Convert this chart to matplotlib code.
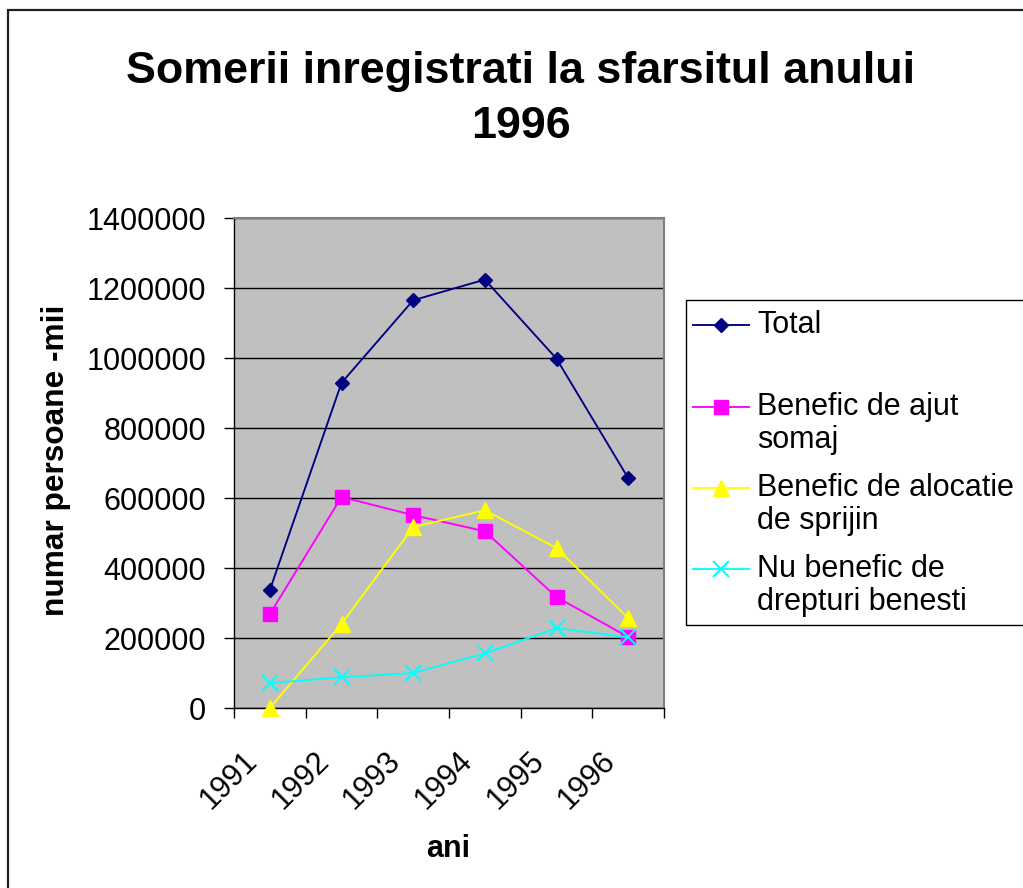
import matplotlib
matplotlib.use('Agg')
import matplotlib.pyplot as plt
from matplotlib.lines import Line2D
from matplotlib.patches import Rectangle
import matplotlib.transforms as mtransforms
import numpy as np

# ---- data ----
years = ['1991', '1992', '1993', '1994', '1995', '1996']
total = [337000, 929000, 1165000, 1224000, 998000, 657000]
ajutor_somaj = [268000, 603000, 551000, 505000, 317000, 203000]
alocatie_sprijin = [0, 240000, 517000, 565000, 457000, 257000]
fara_drepturi = [71000, 88000, 100000, 156000, 228000, 202000]
series_names = ['Total', 'Benefic de ajut\nsomaj', 'Benefic de alocatie\nde sprijin',
                'Nu benefic de\ndrepturi benesti']
y_ticks = [0, 200000, 400000, 600000, 800000, 1000000, 1200000, 1400000]
title_lines = ['Somerii inregistrati la sfarsitul anului', '1996']
x_label = 'ani'
y_label = 'numar persoane -mii'

# ---- styling ----
FONT = 'Liberation Sans'
plt.rcParams['font.family'] = [FONT, 'DejaVu Sans']
W, H = 1023, 888
fig = plt.figure(figsize=(W / 100, H / 100), dpi=100)
fig.patch.set_facecolor('white')

def fx(px):
    return px / W

def fy(py):
    return 1 - py / H

# outer chart frame (extends past right/bottom edges)
fig.patches.append(Rectangle((fx(8), fy(900)), fx(1100), (900 - 10) / H,
                             transform=fig.transFigure, fill=False,
                             edgecolor='#202020', linewidth=1.6, zorder=0))

ax = fig.add_axes([fx(234), fy(708), fx(664) - fx(234), (708 - 218) / H])
ax.set_facecolor('#C0C0C0')

x = np.arange(len(years))
styles = [
    dict(color='#000080', marker='D', markersize=7.5),
    dict(color='#FF00FF', marker='s', markersize=10),
    dict(color='#FFFF00', marker='^', markersize=11.5),
    dict(color='#00FFFF', marker='x', markersize=12, markeredgewidth=1.5),
]
data = [total, ajutor_somaj, alocatie_sprijin, fara_drepturi]
for vals, st, name in zip(data, styles, series_names):
    ax.plot(x, vals, linewidth=1.35, clip_on=False, label=name, zorder=3, **st)

ax.set_xlim(-0.5, len(years) - 0.5)
ax.set_ylim(0, 1400000)
ax.set_yticks(y_ticks)
ax.set_yticklabels([str(v) for v in y_ticks], fontsize=22)
ax.yaxis.grid(True, color='#000000', linewidth=1.0)
ax.set_axisbelow(True)
ax.tick_params(axis='y', direction='out', length=7, width=1, pad=13)

# category boundaries as major ticks, labels on minor ticks
ax.set_xticks(np.arange(-0.5, len(years), 1.0))
ax.set_xticklabels([])
ax.tick_params(axis='x', which='major', direction='out', length=7, width=1)
ax.set_xticks(x, minor=True)
ax.set_xticklabels(years, minor=True, fontsize=22, rotation=45,
                   ha='right', va='center', rotation_mode='anchor')
ax.tick_params(axis='x', which='minor', length=0, pad=35)
offset = mtransforms.ScaledTranslation(-17 / 100, 0, fig.dpi_scale_trans)
for lab in ax.xaxis.get_minorticklabels():
    lab.set_transform(lab.get_transform() + offset)

for side in ['top', 'right']:
    ax.spines[side].set_color('#808080')
    ax.spines[side].set_linewidth(1.5)
for side in ['left', 'bottom']:
    ax.spines[side].set_color('#000000')
    ax.spines[side].set_linewidth(1.0)

# titles / axis labels
fig.text(fx(521), fy(83), title_lines[0], ha='center', va='baseline',
         fontsize=32.3, fontweight='bold')
fig.text(fx(521), fy(138), title_lines[1], ha='center', va='baseline',
         fontsize=32.3, fontweight='bold')
fig.text(fx(56), fy(460), y_label, rotation=90, ha='center', va='center',
         fontsize=22.8, fontweight='bold')
fig.text(fx(448), fy(857), x_label, ha='center', va='baseline',
         fontsize=22, fontweight='bold')

# legend box (extends past right edge)
fig.patches.append(Rectangle((fx(686), fy(625)), fx(400), (625 - 300) / H,
                             transform=fig.transFigure, fill=False,
                             edgecolor='#000000', linewidth=1.0, zorder=1))
first_line_y = [325, 407, 488, 569]
for yy, st, name in zip(first_line_y, styles, series_names):
    ln = Line2D([fx(693), fx(749)], [fy(yy), fy(yy)], transform=fig.transFigure,
                linewidth=1.35, **st, markevery=[])
    fig.lines.append(ln)
    mk = Line2D([fx(721)], [fy(yy)], transform=fig.transFigure, linestyle='none', **st)
    fig.lines.append(mk)
    for i, part in enumerate(name.split('\n')):
        fig.text(fx(757), fy(yy + 33 * i), part, ha='left', va='center', fontsize=22)

fig.savefig('out.png', dpi=100)
